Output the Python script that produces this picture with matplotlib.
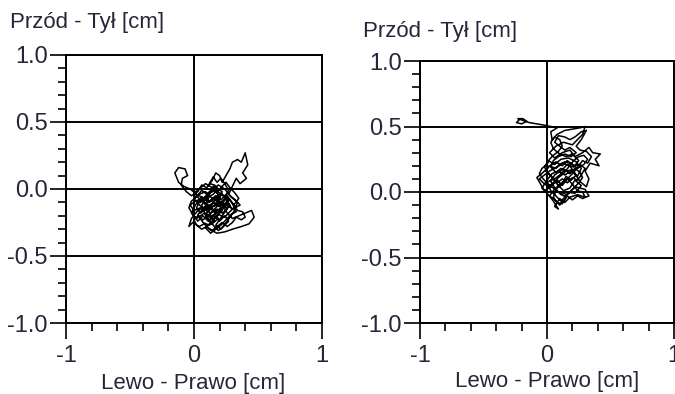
import numpy as np
import matplotlib.pyplot as plt
from matplotlib.ticker import MultipleLocator, FormatStrFormatter

plt.rcParams['font.family'] = ['Liberation Sans', 'DejaVu Sans']
plt.rcParams['axes.unicode_minus'] = False

txt_color = '#2a2438'

# Center of pressure path, left trial (x = left/right, y = front/back) [cm]
left_x = [0.05, 0.12, 0.08, 0.18, 0.22, 0.15, 0.10, 0.02, -0.03, -0.08, -0.12, -0.15, -0.12, -0.07,
          -0.05, -0.09, -0.10, -0.06, -0.02, 0.03, 0.06, 0.10, 0.14, 0.17, 0.20, 0.22, 0.25, 0.28,
          0.30, 0.34, 0.37, 0.40, 0.42, 0.38, 0.41, 0.36, 0.33, 0.30, 0.27, 0.32, 0.36, 0.30, 0.25,
          0.20, 0.14, 0.08, 0.02, -0.02, 0.01, 0.06, 0.11, 0.16, 0.21, 0.26, 0.30, 0.35, 0.40, 0.45,
          0.47, 0.43, 0.37, 0.30, 0.24, 0.18, 0.12, 0.08, 0.04, -0.01, -0.04, -0.02, 0.03, 0.09,
          0.15, 0.19, 0.14, 0.10, 0.06, 0.12, 0.17, 0.24, 0.28, 0.22, 0.17, 0.21, 0.26, 0.31, 0.34,
          0.29, 0.24, 0.19, 0.13, 0.07, 0.01, -0.03, 0.00, 0.05, 0.10, 0.16, 0.20, 0.16, 0.09, 0.04,
          0.00, 0.05, 0.11, 0.18, 0.24, 0.27, 0.21, 0.14, 0.08,
          0.12, 0.15, 0.19, 0.23, 0.26, 0.22, 0.18, 0.13, 0.09, 0.05, 0.02, 0.04, 0.08, 0.12,
          0.17, 0.21, 0.25, 0.29, 0.32, 0.28, 0.24, 0.19, 0.15, 0.11, 0.07, 0.03, 0.00, 0.02,
          0.06, 0.10, 0.14, 0.18, 0.22, 0.26, 0.30, 0.33, 0.37, 0.40, 0.38, 0.34, 0.31, 0.35,
          0.32, 0.28, 0.25, 0.21, 0.18, 0.14, 0.10, 0.06, 0.02, -0.02, -0.04, -0.01, 0.03, 0.07,
          0.11, 0.16, 0.20, 0.24, 0.27, 0.23, 0.19, 0.15, 0.12, 0.09, 0.13, 0.17, 0.21, 0.25,
          0.29, 0.26, 0.23, 0.19, 0.15, 0.11, 0.07, 0.03, 0.00, 0.04, 0.09, 0.13, 0.18, 0.22,
          0.17, 0.13, 0.09, 0.13, 0.17, 0.21, 0.25, 0.29, 0.33, 0.30, 0.26, 0.22, 0.18, 0.14,
          0.10, 0.06, 0.03, 0.07, 0.12, 0.16, 0.12, 0.16, 0.20, 0.24, 0.27, 0.24, 0.21, 0.18,
          0.15, 0.12, 0.16, 0.19, 0.15, 0.11]
left_y = [-0.10, -0.05, -0.15, -0.12, -0.02, 0.02, -0.08, -0.04, 0.00, 0.02, 0.05, 0.12, 0.16, 0.15,
          0.10, 0.08, 0.03, -0.02, -0.05, -0.02, 0.03, 0.01, 0.06, 0.12, 0.10, 0.05, 0.10, 0.15,
          0.20, 0.22, 0.20, 0.27, 0.18, 0.12, 0.08, 0.04, 0.08, 0.02, -0.04, -0.08, -0.12, -0.15, -0.10,
          -0.16, -0.20, -0.18, -0.22, -0.18, -0.12, -0.06, -0.10, -0.07, -0.10, -0.18, -0.22, -0.20, -0.18, -0.16,
          -0.21, -0.26, -0.28, -0.30, -0.32, -0.33, -0.30, -0.26, -0.28, -0.25, -0.28, -0.22, -0.16, -0.13,
          -0.16, -0.22, -0.26, -0.22, -0.12, -0.03, -0.01, -0.06, -0.12, -0.20, -0.27, -0.30, -0.24, -0.17, -0.10,
          -0.06, 0.00, 0.03, -0.02, -0.07, -0.09, -0.12, -0.16, -0.14, -0.16, -0.12, -0.06, 0.00, 0.04, 0.00,
          -0.03, -0.08, -0.12, -0.18, -0.14, -0.08, -0.03, -0.09, -0.11,
          -0.14, -0.10, -0.13, -0.11, -0.15, -0.18, -0.15, -0.18, -0.15, -0.18, -0.14, -0.10, -0.07, -0.09,
          -0.05, -0.08, -0.04, -0.09, -0.13, -0.17, -0.21, -0.19, -0.23, -0.20, -0.23, -0.20, -0.23, -0.27,
          -0.30, -0.28, -0.31, -0.28, -0.25, -0.28, -0.25, -0.21, -0.23, -0.21, -0.17, -0.16, -0.12, -0.07,
          -0.03, 0.01, 0.05, 0.01, -0.03, 0.00, -0.04, -0.01, -0.06, -0.09, -0.14, -0.19, -0.24, -0.20,
          -0.24, -0.20, -0.24, -0.20, -0.24, -0.28, -0.31, -0.27, -0.23, -0.19, -0.14, -0.17, -0.14, -0.12,
          -0.14, -0.09, -0.13, -0.10, -0.13, -0.17, -0.14, -0.11, -0.07, -0.04, -0.02, -0.06, -0.09, -0.16,
          -0.21, -0.25, -0.29, -0.33, -0.30, -0.27, -0.23, -0.19, -0.17, -0.11, -0.06, -0.11, -0.07, -0.11,
          -0.13, -0.16, -0.19, -0.25, -0.27, -0.24, -0.19, -0.15, -0.11, -0.07, -0.01, 0.04, 0.08, 0.05,
          0.09, 0.04, 0.03, 0.00, -0.04, -0.06]

# Center of pressure path, right trial [cm]
right_x = [-0.22, -0.24, -0.20, -0.16, -0.19, -0.23, -0.14, -0.08, -0.02, 0.03, 0.08, 0.03, 0.04, 0.08,
           0.14, 0.20, 0.26, 0.30, 0.28, 0.24, 0.20, 0.13, 0.07, 0.02, 0.06, 0.12, 0.18, 0.22, 0.28,
           0.33, 0.36, 0.42, 0.38, 0.41, 0.34, 0.30, 0.33, 0.31, 0.26, 0.22, 0.18, 0.12, 0.07, 0.02,
           -0.03, -0.08, -0.05, -0.02, 0.03, 0.08, 0.12, 0.16, 0.20, 0.24, 0.28, 0.30, 0.24, 0.18, 0.14,
           0.10, 0.06, 0.09, 0.05, 0.01, -0.04, 0.00, 0.04, 0.09, 0.14, 0.19, 0.24, 0.27, 0.23, 0.17,
           0.11, 0.06, 0.01, -0.02, 0.03, 0.08, 0.13, 0.18, 0.22, 0.27, 0.22, 0.16, 0.11, 0.07, 0.03,
           0.06, 0.12, 0.16, 0.21, 0.25, 0.20, 0.15, 0.10, 0.05, 0.03, 0.06, 0.10,
           0.12, 0.09, 0.05, 0.02, 0.00, -0.04, -0.06, -0.03, 0.01, 0.05, 0.09, 0.13, 0.17, 0.21,
           0.25, 0.28, 0.26, 0.22, 0.18, 0.14, 0.10, 0.06, 0.02, -0.01, 0.02, 0.07, 0.12, 0.16,
           0.20, 0.24, 0.29, 0.32, 0.29, 0.25, 0.21, 0.17, 0.13, 0.09, 0.05, 0.01, -0.03, -0.06,
           -0.02, 0.02, 0.06, 0.10, 0.14, 0.18, 0.22, 0.26, 0.30, 0.27, 0.24, 0.20, 0.16, 0.12,
           0.08, 0.04, 0.00, 0.03, 0.07, 0.11, 0.14, 0.18, 0.22, 0.26, 0.30, 0.33, 0.28, 0.24,
           0.20, 0.16, 0.12, 0.08, 0.05, 0.08, 0.12, 0.15, 0.19, 0.23, 0.20, 0.15, 0.11, 0.07,
           0.03, 0.05, 0.09, 0.14, 0.19, 0.23, 0.18, 0.14, 0.10, 0.06, 0.09, 0.14, 0.18, 0.22,
           0.27, 0.31, 0.27, 0.23, 0.26, 0.31, 0.35, 0.32, 0.28, 0.25, 0.21, 0.17, 0.13, 0.09,
           0.05, 0.02, 0.06, 0.10, 0.13]
right_y = [0.55, 0.53, 0.52, 0.54, 0.56, 0.56, 0.53, 0.52, 0.51, 0.50, 0.49, 0.46, 0.40, 0.44,
           0.47, 0.48, 0.49, 0.50, 0.44, 0.40, 0.36, 0.38, 0.35, 0.30, 0.26, 0.30, 0.32, 0.27, 0.30,
           0.34, 0.30, 0.29, 0.25, 0.20, 0.22, 0.16, 0.10, 0.04, 0.08, 0.14, 0.20, 0.22, 0.18, 0.20,
           0.15, 0.11, 0.06, 0.01, 0.04, 0.09, 0.05, 0.10, 0.06, 0.01, 0.00, -0.04, -0.02, -0.04, -0.08,
           -0.05, -0.11, -0.13, -0.07, -0.02, 0.03, 0.09, 0.14, 0.16, 0.13, 0.16, 0.12, 0.18, 0.23, 0.26,
           0.25, 0.21, 0.24, 0.19, 0.12, 0.06, 0.01, 0.03, 0.09, 0.05, -0.01, 0.00, -0.02, 0.02, 0.08,
           0.13, 0.17, 0.21, 0.19, 0.24, 0.29, 0.27, 0.29, 0.33, 0.38, 0.42, 0.40,
           0.35, 0.31, 0.28, 0.25, 0.21, 0.18, 0.14, 0.10, 0.06, 0.03, 0.00, -0.03, -0.01, 0.03,
           0.07, 0.11, 0.15, 0.18, 0.14, 0.17, 0.13, 0.10, 0.13, 0.16, 0.20, 0.23, 0.20, 0.24,
           0.21, 0.18, 0.21, 0.25, 0.28, 0.27, 0.24, 0.19, 0.14, 0.11, 0.07, 0.04, 0.07, 0.10,
           0.13, 0.16, 0.18, 0.21, 0.23, 0.22, 0.20, 0.21, 0.18, 0.13, 0.09, 0.11, 0.07, 0.10,
           0.07, 0.10, 0.07, 0.01, -0.03, -0.07, -0.04, 0.00, 0.04, 0.03, 0.02, -0.03, -0.05, -0.03,
           -0.06, -0.03, -0.09, -0.08, -0.04, 0.03, 0.06, 0.12, 0.09, 0.13, 0.17, 0.16, 0.18, 0.15,
           0.19, 0.24, 0.27, 0.29, 0.27, 0.30, 0.34, 0.32, 0.35, 0.38, 0.43, 0.42, 0.40, 0.42,
           0.46, 0.47, 0.40, 0.35, 0.32, 0.31, 0.27, 0.22, 0.24, 0.20, 0.15, 0.11, 0.08, 0.05,
           0.01, -0.03, -0.06, -0.10, -0.06]

ylabel_text = 'Przód - Tył [cm]'
xlabel_text = 'Lewo - Prawo [cm]'


def stabilogram(ax, xs, ys):
    ax.set_xlim(-1, 1)
    ax.set_ylim(-1, 1)
    ax.set_xticks([-1, 0, 1])
    ax.set_yticks([-1, -0.5, 0, 0.5, 1])
    ax.xaxis.set_minor_locator(MultipleLocator(0.2))
    ax.yaxis.set_minor_locator(MultipleLocator(0.1))
    ax.yaxis.set_major_formatter(FormatStrFormatter('%.1f'))
    ax.grid(True, which='major', color='black', lw=1.4)
    ax.set_axisbelow(True)
    for s in ax.spines.values():
        s.set_linewidth(1.4)
    ax.tick_params(which='major', direction='out', length=11.5, width=1.2,
                   labelsize=17, labelcolor=txt_color)
    ax.tick_params(axis='y', which='major', pad=1.5)
    ax.tick_params(axis='x', which='major', pad=4)
    ax.tick_params(which='minor', direction='out', length=6, width=1.2)
    ax.plot(xs, ys, color='black', lw=1.1)


fig = plt.figure(figsize=(6.75, 3.94), dpi=100)

ax1 = fig.add_axes([66 / 675, 71 / 394, 256 / 675, 268 / 394])
stabilogram(ax1, left_x, left_y)
ax2 = fig.add_axes([420 / 675, 71 / 394, 254 / 675, 262 / 394])
stabilogram(ax2, right_x, right_y)

fig.text(10 / 675, 1 - 12 / 394, ylabel_text, fontsize=16, color=txt_color, va='top')
fig.text(363 / 675, 1 - 21 / 394, ylabel_text, fontsize=16, color=txt_color, va='top')
fig.text(193 / 675, 0, xlabel_text, fontsize=16, color=txt_color, ha='center', va='bottom')
fig.text(547 / 675, 2 / 394, xlabel_text, fontsize=16, color=txt_color, ha='center', va='bottom')

fig.savefig('out.png', dpi=100)
